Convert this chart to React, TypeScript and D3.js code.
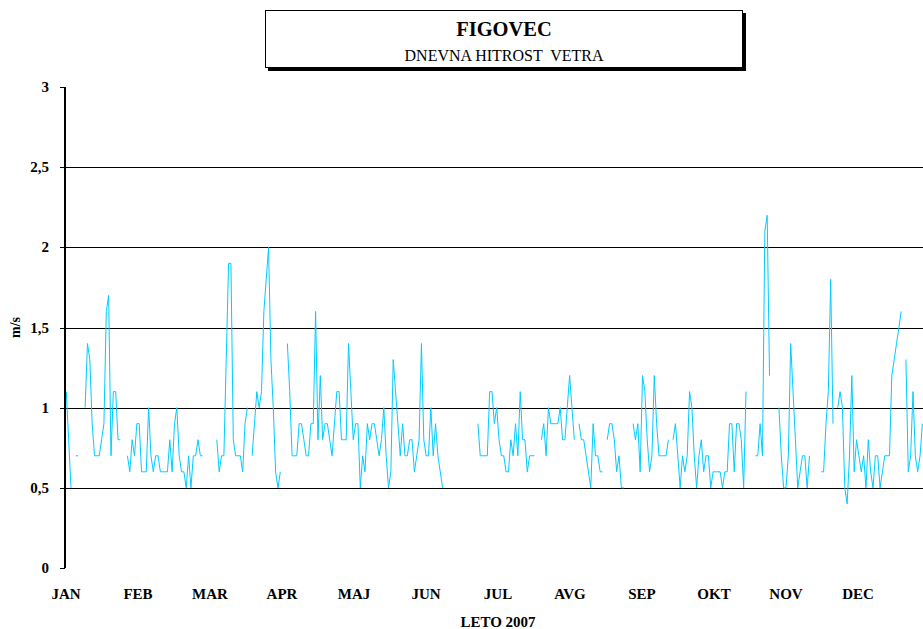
import React from 'react';
import * as d3 from 'd3';

const months = ['JAN', 'FEB', 'MAR', 'APR', 'MAJ', 'JUN', 'JUL', 'AVG', 'SEP', 'OKT', 'NOV', 'DEC'];
const yTicks = [0, 0.5, 1, 1.5, 2, 2.5, 3];
const yTickLabels = ['0', '0,5', '1', '1,5', '2', '2,5', '3'];
const gridValues = [0.5, 1, 1.5, 2, 2.5];

const jan = [1.1, 0.8, 0.5, null, 0.7, 0.7, null, null, 1.0, 1.4, 1.3, 0.9, 0.7, 0.7, 0.7, 0.8, 0.9, 1.6, 1.7, 0.7, 1.1, 1.1, 0.8, 0.8, null, null, 0.7, 0.6, 0.8, 0.7, 0.9];
const feb = [0.9, 0.6, 0.6, 0.6, 1.0, 0.7, 0.6, 0.7, 0.7, 0.6, 0.6, 0.6, 0.6, 0.8, 0.6, 0.9, 1.0, 0.7, 0.6, 0.6, 0.5, 0.7, 0.5, 0.7, 0.7, 0.8, 0.7, 0.7];
const mar = [null, null, null, null, null, 0.8, 0.6, 0.7, 0.7, 1.3, 1.9, 1.9, 0.8, 0.7, 0.7, 0.7, 0.6, 0.9, 1.0, null, 0.7, 0.9, 1.1, 1.0, 1.1, 1.6, 1.8, 2.0, 1.3, 1.0, 0.6];
const apr = [0.5, 0.6, null, null, 1.4, 1.1, 0.7, 0.7, 0.7, 0.9, 0.9, 0.8, 0.7, 0.7, 0.9, 0.9, 1.6, 0.8, 1.2, 0.8, 0.9, 0.9, 0.8, 0.7, 0.9, 1.1, 1.1, 0.8, 0.8, 0.8];
const maj = [1.4, 1.1, 0.8, 0.9, 0.9, 0.5, 0.7, 0.6, 0.9, 0.8, 0.9, 0.9, 0.8, 0.7, 0.8, 1.0, 0.7, 0.5, 0.6, 1.3, 1.1, 0.9, 0.7, 0.9, 0.7, 0.7, 0.8, 0.8, 0.6, 0.7, 0.8];
const jun = [1.4, 0.8, 0.7, 0.7, 1.0, 0.7, 0.9, 0.7, 0.6, 0.5, null, null, null, null, null, null, null, null, null, null, null, null, null, null, 0.9, 0.7, 0.7, 0.7, 0.7, 1.1];
const jul = [1.1, 0.9, 1.0, 0.8, 0.7, 0.7, 0.6, 0.6, 0.8, 0.7, 0.9, 0.7, 1.1, 0.8, 0.8, 0.6, 0.7, 0.7, 0.7, null, null, 0.8, 0.9, 0.7, 1.0, 0.9, 0.9, 0.9, 0.9, 1.0, 0.8];
const avg = [0.8, 1.0, 1.2, 1.0, 0.8, null, 0.9, 0.8, 0.8, 0.7, 0.6, 0.5, 0.9, 0.7, 0.7, 0.6, 0.6, null, 0.8, 0.9, 0.9, 0.8, 0.6, 0.7, 0.5, 0.5, null, null, null, 0.9, 0.8];
const sep = [0.9, 0.6, 1.2, 1.1, 0.8, 0.6, 0.7, 1.2, 0.9, 0.7, 0.7, 0.7, 0.7, 0.8, null, 0.8, 0.9, 0.7, 0.5, 0.7, 0.6, 0.7, 1.1, 1.0, 0.7, 0.5, 0.7, 0.8, 0.6, 0.7];
const okt = [0.7, 0.5, 0.6, 0.6, 0.6, 0.6, 0.5, 0.6, 0.6, 0.9, 0.9, 0.6, 0.9, 0.9, 0.8, 0.5, 1.1, null, null, null, 0.7, 0.7, 0.9, 0.7, 2.1, 2.2, 1.2, null, null, null, 1.0];
const nov = [0.7, 0.5, 0.5, 0.7, 1.4, 1.1, 0.8, 0.5, 0.6, 0.7, 0.7, 0.5, 0.7, null, null, null, null, 0.6, 0.6, 0.9, 1.1, 1.8, 0.9, null, 1.0, 1.1, 1.0, 0.5, 0.4, 0.7];
const dec = [1.2, 0.6, 0.8, 0.7, 0.6, 0.7, 0.5, 0.8, 0.6, 0.5, 0.7, 0.7, 0.5, 0.6, 0.7, 0.7, 0.7, 1.2, 1.3, 1.4, 1.5, 1.6, null, 1.3, 0.6, 0.7, 1.1, 0.7, 0.6, 0.7, 0.9];

const daily: (number | null)[] = [...jan, ...feb, ...mar, ...apr, ...maj, ...jun, ...jul, ...avg, ...sep, ...okt, ...nov, ...dec];

const serif = "'Liberation Serif', 'Times New Roman', Times, serif";

export default function App() {
  const W = 923;
  const H = 629;
  const x = d3.scaleLinear().domain([0, daily.length - 1]).range([66.3, 922.4]);
  const y = d3.scaleLinear().domain([0, 3]).range([568, 87]);
  const mx = d3.scalePoint<string>().domain(months).range([66, 858]);
  const line = d3
    .line<number | null>()
    .defined((d) => d != null)
    .x((_, i) => x(i))
    .y((d) => y(d as number));
  const crisp = (v: number) => Math.round(v) + 0.5;
  const ts = { fontFamily: serif };

  return (
    <svg width={W} height={H} style={{ position: 'absolute', left: 0, top: 0, background: '#fff' }}>
      <rect x={0} y={0} width={W} height={H} fill="#fff" />
      {/* title box */}
      <rect x={268} y={13} width={478} height={58} fill="#000" />
      <rect x={265.5} y={10.5} width={477} height={57} fill="#fff" stroke="#000" strokeWidth={1} />
      <text x={504} y={36} textAnchor="middle" fontWeight="bold" fontSize={20.5} fill="#000" style={ts}>
        FIGOVEC
      </text>
      <text x={504} y={61} textAnchor="middle" fontSize={16} fill="#000" style={{ ...ts, whiteSpace: 'pre' }}>
        {'DNEVNA HITROST  VETRA'}
      </text>

      {/* gridlines */}
      {gridValues.map((v) => (
        <line key={v} x1={65} x2={W} y1={crisp(y(v))} y2={crisp(y(v))} stroke="#000" strokeWidth={1} />
      ))}

      {/* data line */}
      <path d={line(daily) || ''} fill="none" stroke="#00CCFF" strokeWidth={1} />

      {/* y axis */}
      <line x1={65} x2={65} y1={y(3)} y2={y(0)} stroke="#000" strokeWidth={2} />
      {yTicks.map((v, i) => (
        <g key={v}>
          <line x1={60} x2={65} y1={crisp(y(v))} y2={crisp(y(v))} stroke="#000" strokeWidth={1} />
          <text x={49} y={y(v) + 5} textAnchor="end" fontWeight="bold" fontSize={15} fill="#000" style={ts}>
            {yTickLabels[i]}
          </text>
        </g>
      ))}
      <text
        transform={`translate(20,${y(1.5)}) rotate(-90)`}
        textAnchor="middle"
        fontWeight="bold"
        fontSize={14}
        fill="#000"
        style={ts}
      >
        m/s
      </text>

      {/* month labels */}
      {months.map((m) => (
        <text key={m} x={mx(m)} y={599} textAnchor="middle" fontWeight="bold" fontSize={15} fill="#000" style={ts}>
          {m}
        </text>
      ))}
      <text x={498} y={627} textAnchor="middle" fontWeight="bold" fontSize={15} fill="#000" style={ts}>
        LETO 2007
      </text>
    </svg>
  );
}
